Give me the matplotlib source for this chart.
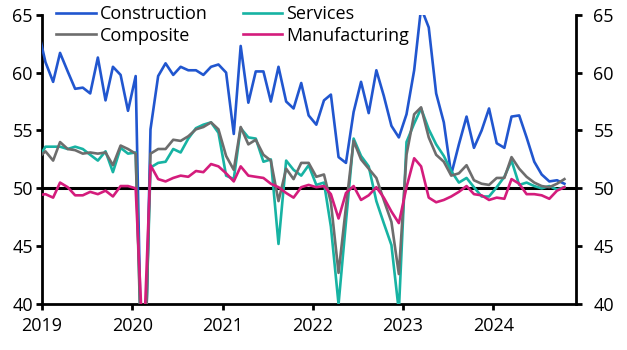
import matplotlib

matplotlib.use("Agg")
import matplotlib.pyplot as plt
import matplotlib.dates as mdates
import pandas as pd

# China official PMIs, Dec 2018 - Oct 2024 (monthly)
months = pd.date_range("2018-12-01", "2024-10-01", freq="MS") + pd.Timedelta(days=14)

construction = [
    63.8,
    60.9, 59.2, 61.7, 60.1, 58.6, 58.7, 58.2, 61.3, 57.6, 60.5, 59.8, 56.7,
    59.7, 26.6, 55.1, 59.7, 60.8, 59.8, 60.5, 60.2, 60.2, 59.8, 60.5, 60.7,
    60.0, 54.7, 62.3, 57.4, 60.1, 60.1, 57.5, 60.5, 57.5, 56.9, 59.1, 56.3,
    55.5, 57.6, 58.1, 52.7, 52.2, 56.6, 59.2, 56.5, 60.2, 58.0, 55.4, 54.4,
    56.4, 60.2, 65.6, 63.9, 58.2, 55.7, 51.2, 53.8, 56.2, 53.5, 55.0, 56.9,
    53.9, 53.5, 56.2, 56.3, 54.4, 52.3, 51.2, 50.6, 50.7, 50.4,
]
services = [
    52.5,
    53.6, 53.6, 53.6, 53.4, 53.6, 53.4, 52.9, 52.4, 53.2, 51.4, 53.5, 53.0,
    53.1, 30.1, 51.8, 52.2, 52.3, 53.4, 53.1, 54.3, 55.2, 55.5, 55.7, 54.8,
    51.1, 50.8, 55.2, 54.4, 54.3, 52.3, 52.5, 45.2, 52.4, 51.6, 51.1, 52.0,
    50.3, 50.5, 46.7, 40.0, 47.1, 54.3, 52.8, 51.9, 48.9, 47.0, 45.1, 39.4,
    54.0, 55.6, 56.9, 55.1, 53.8, 52.8, 51.5, 50.5, 50.9, 50.1, 49.3, 49.3,
    50.1, 51.0, 52.4, 50.3, 50.5, 50.2, 50.0, 50.2, 49.9, 50.1,
]
composite = [
    52.6,
    53.2, 52.4, 54.0, 53.4, 53.3, 53.0, 53.1, 53.0, 53.1, 52.0, 53.7, 53.4,
    53.0, 28.9, 53.0, 53.4, 53.4, 54.2, 54.1, 54.5, 55.1, 55.3, 55.7, 55.1,
    52.8, 51.6, 55.3, 53.8, 54.2, 52.9, 52.4, 48.9, 51.7, 50.8, 52.2, 52.2,
    51.0, 51.2, 48.8, 42.7, 48.4, 54.1, 52.5, 51.7, 50.9, 49.0, 47.1, 42.6,
    52.9, 56.4, 57.0, 54.4, 52.9, 52.3, 51.1, 51.3, 52.0, 50.7, 50.4, 50.3,
    50.9, 50.9, 52.7, 51.7, 51.0, 50.5, 50.2, 50.1, 50.4, 50.8,
]
manufacturing = [
    49.4,
    49.5, 49.2, 50.5, 50.1, 49.4, 49.4, 49.7, 49.5, 49.8, 49.3, 50.2, 50.2,
    50.0, 35.7, 52.0, 50.8, 50.6, 50.9, 51.1, 51.0, 51.5, 51.4, 52.1, 51.9,
    51.3, 50.6, 51.9, 51.1, 51.0, 50.9, 50.4, 50.1, 49.6, 49.2, 50.1, 50.3,
    50.1, 50.2, 49.5, 47.4, 49.6, 50.2, 49.0, 49.4, 50.1, 49.2, 48.0, 47.0,
    50.1, 52.6, 51.9, 49.2, 48.8, 49.0, 49.3, 49.7, 50.2, 49.5, 49.4, 49.0,
    49.2, 49.1, 50.8, 50.4, 49.5, 49.5, 49.4, 49.1, 49.8, 50.1,
]

y_ticks = [40, 45, 50, 55, 60, 65]

COLORS = {
    "Construction": "#2156cf",
    "Services": "#17b3a3",
    "Composite": "#6d6d6d",
    "Manufacturing": "#d41c7c",
}

plt.rcParams.update({
    "font.family": ["Open Sans", "DejaVu Sans"],
    "font.size": 13,
})

fig = plt.figure(figsize=(6.27, 3.5), dpi=100)
ax = fig.add_axes([0.067, 0.131, 0.8517, 0.827])

series = [
    ("Construction", construction),
    ("Services", services),
    ("Composite", composite),
    ("Manufacturing", manufacturing),
]
lines = {}
for name, vals in series:
    (lines[name],) = ax.plot(months, vals, color=COLORS[name], lw=1.9, label=name,
                             zorder=3)

ax.axhline(50, color="black", lw=2.2, zorder=2)

ax.set_ylim(40, 65)
ax.set_yticks(y_ticks)
ax.set_xlim(pd.Timestamp("2019-01-01"), pd.Timestamp("2024-12-01"))
ax.xaxis.set_major_locator(mdates.YearLocator())
ax.xaxis.set_major_formatter(mdates.DateFormatter("%Y"))

for side in ("left", "right", "bottom"):
    ax.spines[side].set_linewidth(2.0)
    ax.spines[side].set_color("black")
ax.spines["top"].set_visible(False)

ax.tick_params(axis="y", direction="out", length=4.5, width=2, pad=2, labelsize=13)
ax.tick_params(axis="x", direction="out", length=4.5, width=2, pad=5, labelsize=13)

ax_r = ax.twinx()
ax_r.set_ylim(40, 65)
ax_r.set_yticks(y_ticks)
for side in ("left", "right", "bottom", "top"):
    ax_r.spines[side].set_visible(False)
ax_r.tick_params(axis="y", direction="out", length=4.5, width=2, pad=8, labelsize=13)

# two columns, filled row by row as in the original
order = ["Construction", "Composite", "Services", "Manufacturing"]
ax.legend(
    [lines[n] for n in order],
    order,
    loc="upper left",
    bbox_to_anchor=(0.003, 1.077),
    ncol=2,
    frameon=False,
    handlelength=2.2,
    handletextpad=0.2,
    columnspacing=1.95,
    labelspacing=0.2,
    borderpad=0.2,
    fontsize=13,
)

fig.savefig("out.png", dpi=100, facecolor="white")
